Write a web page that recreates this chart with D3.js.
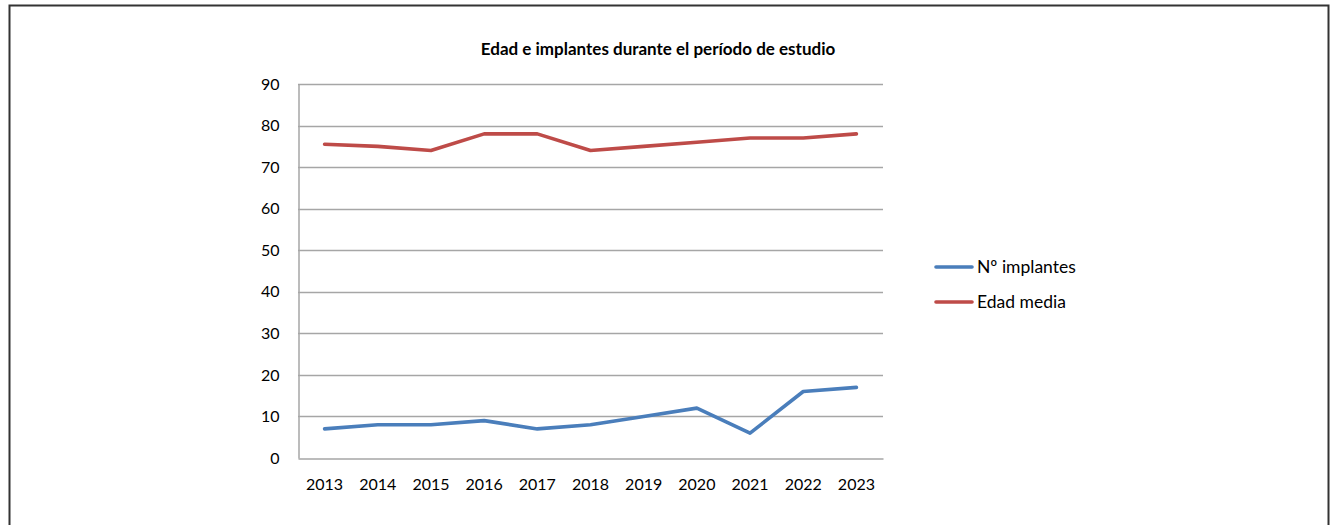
<!DOCTYPE html>
<html>
<head>
<meta charset="utf-8">
<script src="https://cdn.jsdelivr.net/npm/d3@7"></script>
<style>
  html, body { margin: 0; padding: 0; background: #fff; }
  svg { display: block; }
  text { font-family: Lato, "Open Sans", sans-serif; fill: #000; }
</style>
</head>
<body>
<svg id="chart" width="1330" height="525"></svg>
<script>
// Study years and the two series tracked over them
const years = ["2013","2014","2015","2016","2017","2018","2019","2020","2021","2022","2023"];
const implantes = [7, 8, 8, 9, 7, 8, 10, 12, 6, 16, 17];
const edadMedia = [75.5, 75, 74, 78, 78, 74, 75, 76, 77, 77, 78];
const yTicks = [0, 10, 20, 30, 40, 50, 60, 70, 80, 90];
const seriesNames = ["Nº implantes", "Edad media"];
const seriesColors = ["#4a7ebb", "#be4b48"];

const svg = d3.select("#chart");

// outer frame
svg.append("rect")
  .attr("x", 9.5).attr("y", 5.5)
  .attr("width", 1319).attr("height", 540)
  .attr("fill", "none").attr("stroke", "#333").attr("stroke-width", 2);

const plot = { left: 298, right: 883, top: 84, bottom: 458 };

const x = d3.scaleBand().domain(years).range([plot.left, plot.right]);
const y = d3.scaleLinear().domain([0, 90]).range([plot.bottom, plot.top]);

// horizontal gridlines
svg.append("g").selectAll("line").data(yTicks.filter(d => d > 0)).join("line")
  .attr("x1", plot.left).attr("x2", plot.right)
  .attr("y1", d => Math.round(y(d)) + 0.5).attr("y2", d => Math.round(y(d)) + 0.5)
  .attr("stroke", "#a6a6a6").attr("stroke-width", 1.3);

// y axis
const yAxis = svg.append("g")
  .attr("transform", `translate(${plot.left + 0.5},0)`)
  .call(d3.axisLeft(y).tickValues(yTicks).tickSize(0).tickPadding(19));
yAxis.select(".domain").attr("stroke", "#a6a6a6").attr("stroke-width", 1.5);
yAxis.selectAll("text").attr("font-size", 16).attr("font-family", "Lato, sans-serif");

// x axis
const xAxis = svg.append("g")
  .attr("transform", `translate(0,${plot.bottom + 0.5})`)
  .call(d3.axisBottom(x).tickSize(0).tickPadding(20));
xAxis.select(".domain").attr("stroke", "#a6a6a6").attr("stroke-width", 1.5);
xAxis.selectAll("text").attr("font-size", 16).attr("font-family", "Lato, sans-serif");

// series lines
const line = d3.line()
  .x((d, i) => x(years[i]) + x.bandwidth() / 2)
  .y(d => y(d));

[implantes, edadMedia].forEach((vals, k) => {
  svg.append("path")
    .datum(vals)
    .attr("d", line)
    .attr("fill", "none")
    .attr("stroke", seriesColors[k])
    .attr("stroke-width", 3.6)
    .attr("stroke-linejoin", "round")
    .attr("stroke-linecap", "round");
});

// title
svg.append("text")
  .attr("x", 658).attr("y", 55)
  .attr("text-anchor", "middle")
  .attr("font-size", 17).attr("font-weight", "bold")
  .text("Edad e implantes durante el período de estudio");

// legend
const legend = svg.append("g");
seriesNames.forEach((name, k) => {
  const ly = 267 + k * 35;
  legend.append("line")
    .attr("x1", 936).attr("x2", 972)
    .attr("y1", ly).attr("y2", ly)
    .attr("stroke", seriesColors[k]).attr("stroke-width", 3.6)
    .attr("stroke-linecap", "round");
  legend.append("text")
    .attr("x", 977).attr("y", ly)
    .attr("dy", "0.35em")
    .attr("font-size", 17.5)
    .text(name);
});
</script>
</body>
</html>
